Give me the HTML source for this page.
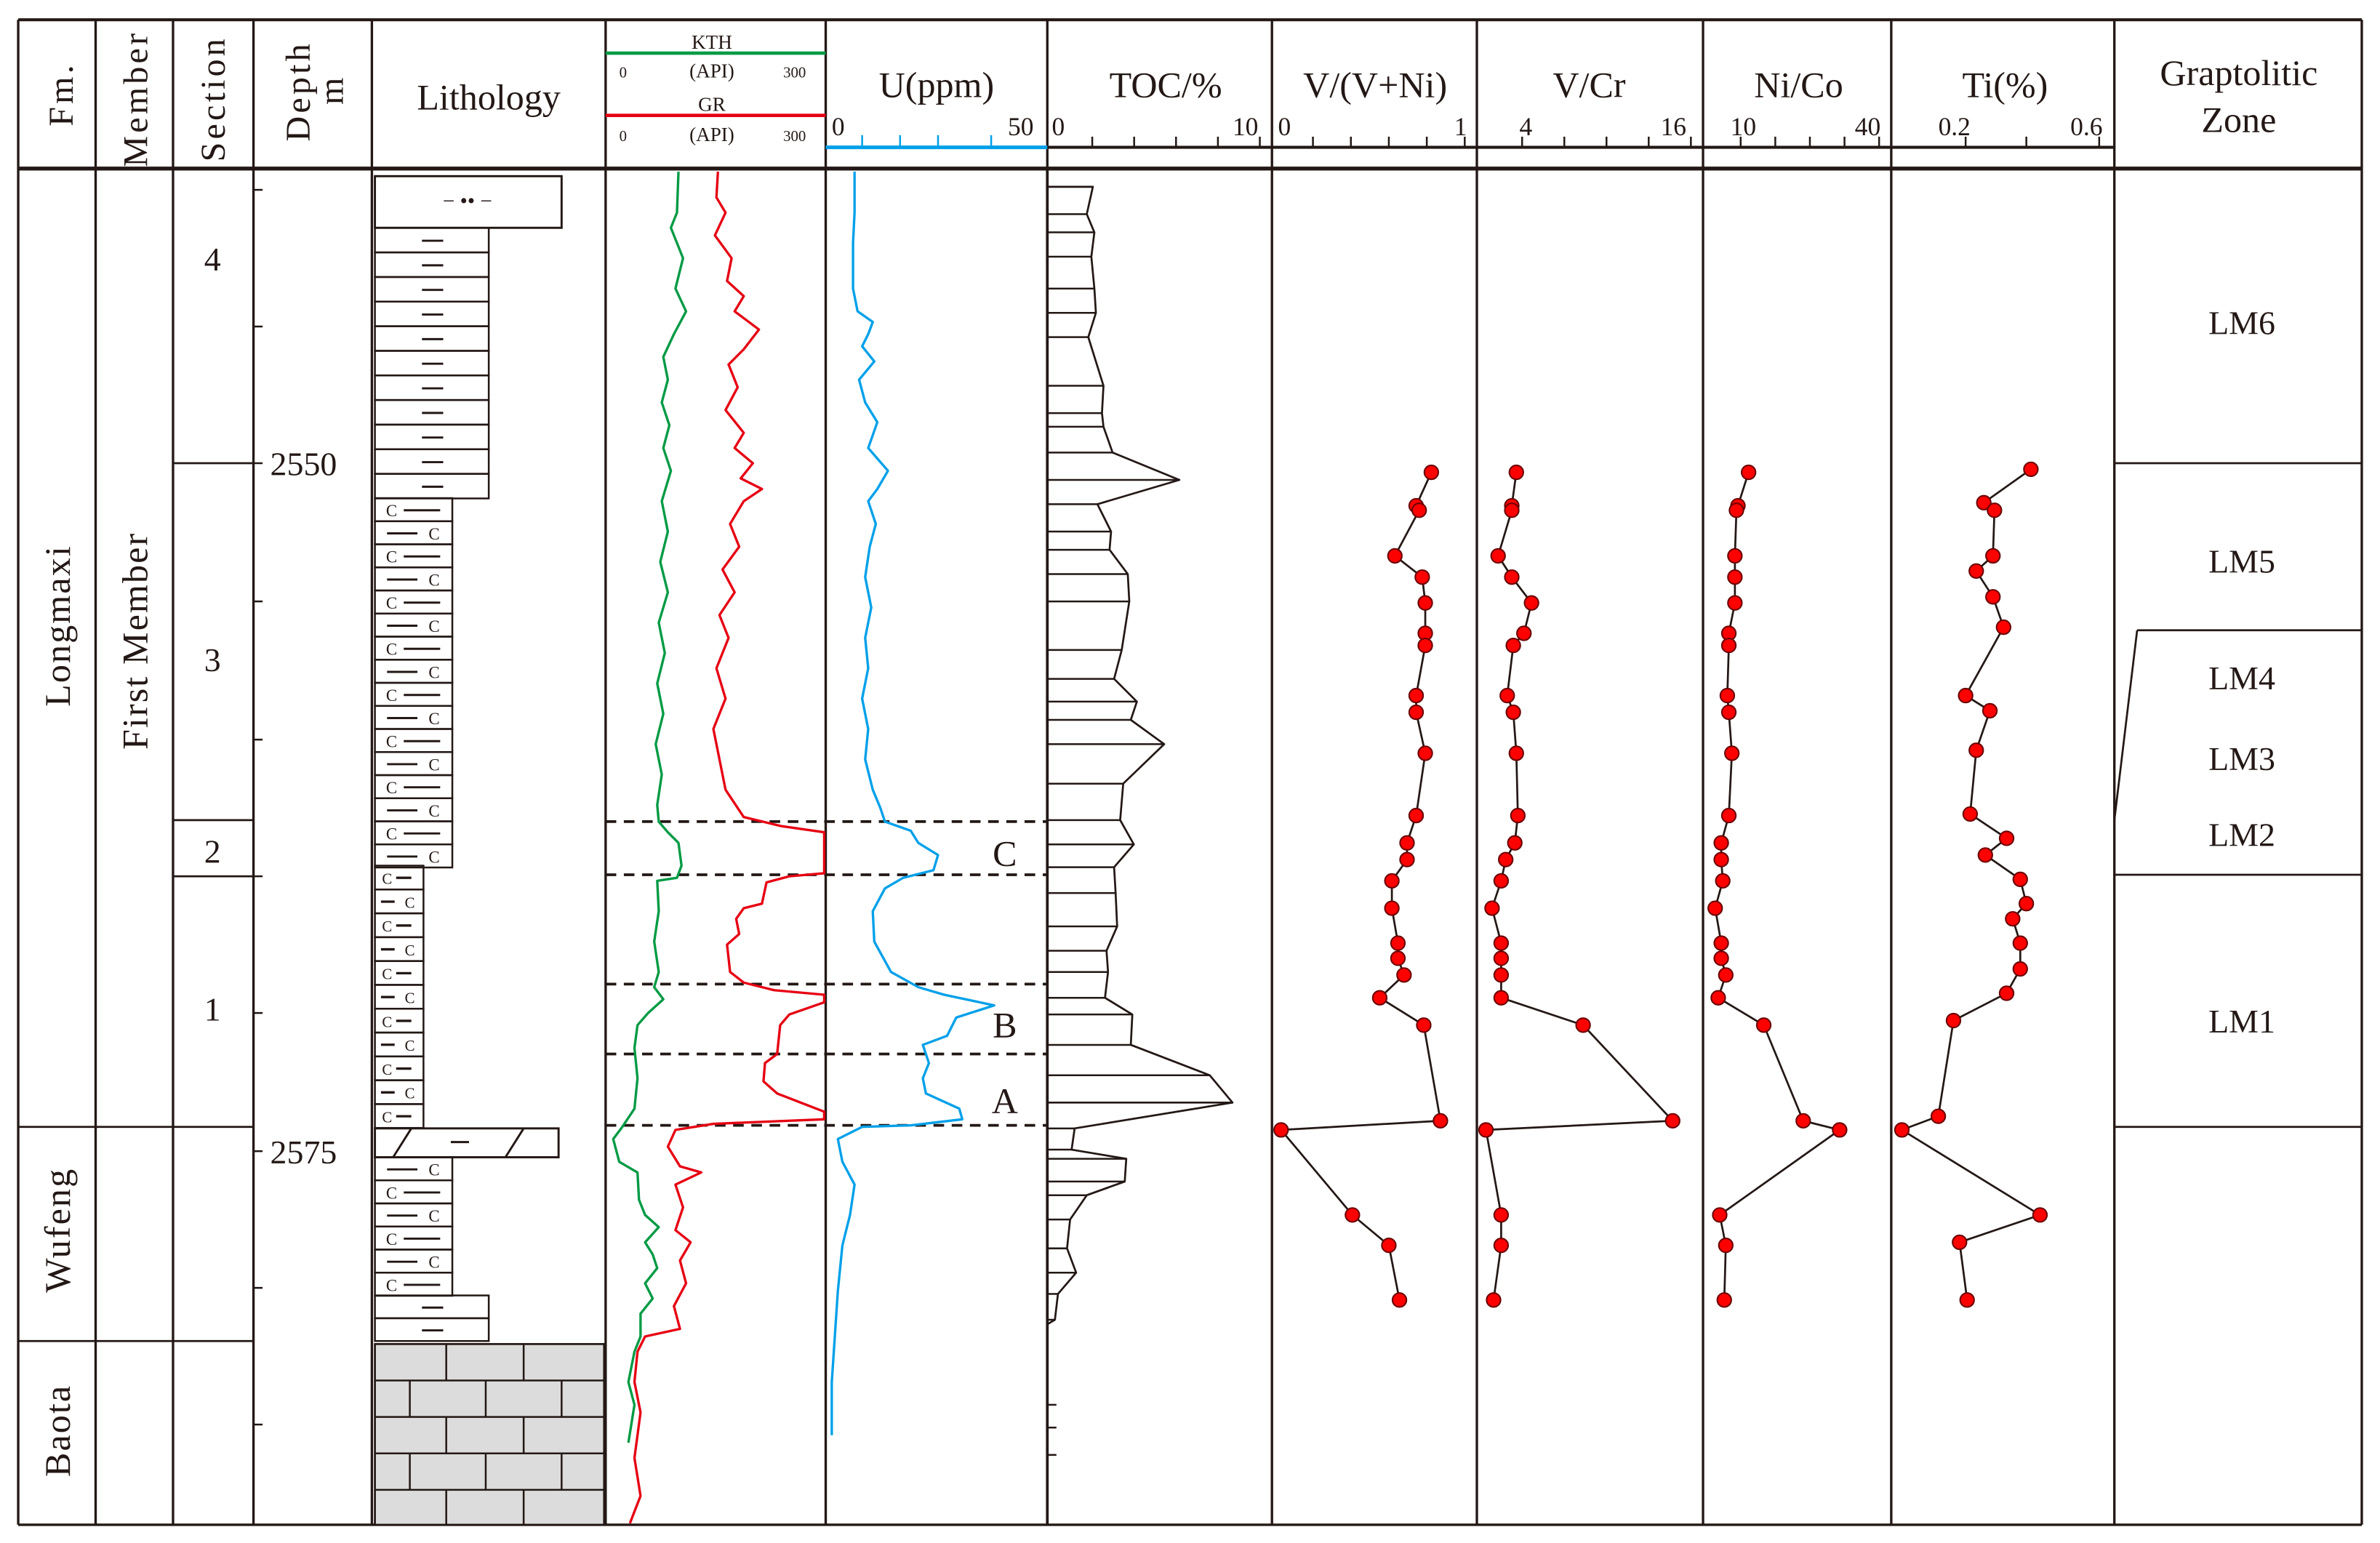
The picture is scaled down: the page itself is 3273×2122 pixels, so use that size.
<!DOCTYPE html>
<html><head><meta charset="utf-8">
<style>
html,body{margin:0;padding:0;background:#fff;}
svg{display:block;}
text{font-family:"Liberation Serif",serif;fill:#231815;}
</style></head>
<body>
<svg id="s" width="3273" height="2122" viewBox="0 0 1568 1016" preserveAspectRatio="none" xmlns="http://www.w3.org/2000/svg">
<rect x="0" y="0" width="1568" height="1016" fill="#fff"/>
<g id="g" stroke="#231815" fill="none"></g>
<text x="40" y="62" font-size="23" transform="rotate(-90 40 62)" text-anchor="middle" dy="8" letter-spacing="2">Fm.</text>
<text x="89" y="65" font-size="23" transform="rotate(-90 89 65)" text-anchor="middle" dy="8" letter-spacing="2">Member</text>
<text x="140" y="65" font-size="23" transform="rotate(-90 140 65)" text-anchor="middle" dy="8" letter-spacing="2">Section</text>
<text x="196" y="60" font-size="23" transform="rotate(-90 196 60)" text-anchor="middle" dy="8" letter-spacing="2">Depth</text>
<text x="218" y="60" font-size="23" transform="rotate(-90 218 60)" text-anchor="middle" dy="8">m</text>
<text x="322" y="72" font-size="24" text-anchor="middle">Lithology</text>
<text x="469" y="32" font-size="13" text-anchor="middle">KTH</text>
<text x="408" y="51" font-size="10">0</text><text x="469" y="51" font-size="13" text-anchor="middle">(API)</text><text x="516" y="51" font-size="10">300</text>
<text x="469" y="73" font-size="13" text-anchor="middle">GR</text>
<text x="408" y="93" font-size="10">0</text><text x="469" y="93" font-size="13" text-anchor="middle">(API)</text><text x="516" y="93" font-size="10">300</text>
<text x="617" y="64" font-size="24" text-anchor="middle">U(ppm)</text>
<text x="548" y="89" font-size="17">0</text><text x="664" y="89" font-size="17">50</text>
<text x="768" y="64" font-size="24" text-anchor="middle">TOC/%</text>
<text x="693" y="89" font-size="17">0</text><text x="812" y="89" font-size="17">10</text>
<text x="906" y="64" font-size="24" text-anchor="middle">V/(V+Ni)</text>
<text x="842" y="89" font-size="17">0</text><text x="958" y="89" font-size="17">1</text>
<text x="1047" y="64" font-size="24" text-anchor="middle">V/Cr</text>
<text x="1001" y="89" font-size="17">4</text><text x="1094" y="89" font-size="17">16</text>
<text x="1185" y="64" font-size="24" text-anchor="middle">Ni/Co</text>
<text x="1140" y="89" font-size="17">10</text><text x="1222" y="89" font-size="17">40</text>
<text x="1321" y="64" font-size="24" text-anchor="middle">Ti(%)</text>
<text x="1277" y="89" font-size="17">0.2</text><text x="1364" y="89" font-size="17">0.6</text>
<text x="1475" y="56" font-size="24" text-anchor="middle">Graptolitic</text>
<text x="1475" y="87" font-size="24" text-anchor="middle">Zone</text>
<text x="38" y="412" font-size="24" transform="rotate(-90 38 412)" text-anchor="middle" dy="8" letter-spacing="1">Longmaxi</text>
<text x="89" y="422" font-size="24" transform="rotate(-90 89 422)" text-anchor="middle" dy="8" letter-spacing="1">First Member</text>
<text x="38" y="810" font-size="24" transform="rotate(-90 38 810)" text-anchor="middle" dy="8" letter-spacing="1">Wufeng</text>
<text x="38" y="942" font-size="24" transform="rotate(-90 38 942)" text-anchor="middle" dy="8" letter-spacing="1">Baota</text>
<text x="140" y="178" font-size="22" text-anchor="middle">4</text>
<text x="140" y="442" font-size="22" text-anchor="middle">3</text>
<text x="140" y="568" font-size="22" text-anchor="middle">2</text>
<text x="140" y="672" font-size="22" text-anchor="middle">1</text>
<text x="178" y="313" font-size="22">2550</text>
<text x="178" y="766" font-size="22">2575</text>
<text x="662" y="570" font-size="24" text-anchor="middle">C</text>
<text x="662" y="683" font-size="24" text-anchor="middle">B</text>
<text x="662" y="733" font-size="24" text-anchor="middle">A</text>
<text x="1477" y="220" font-size="22" text-anchor="middle">LM6</text>
<text x="1477" y="377" font-size="22" text-anchor="middle">LM5</text>
<text x="1477" y="454" font-size="22" text-anchor="middle">LM4</text>
<text x="1477" y="507" font-size="22" text-anchor="middle">LM3</text>
<text x="1477" y="557" font-size="22" text-anchor="middle">LM2</text>
<text x="1477" y="680" font-size="22" text-anchor="middle">LM1</text>
<g id="lt" font-size="12"></g>
</svg>
<script>
var NS="http://www.w3.org/2000/svg",g=document.getElementById('g'),lt=document.getElementById('lt');
function el(t,a,p){var e=document.createElementNS(NS,t);for(var k in a)e.setAttribute(k,a[k]);(p||g).appendChild(e);return e;}
function L(x1,y1,x2,y2,w,c,d){var a={x1:x1,y1:y1,x2:x2,y2:y2,'stroke-width':w||1.3};if(c)a.stroke=c;if(d)a['stroke-dasharray']=d;return el('line',a);}
function P(pts,c,w){return el('polyline',{points:pts.map(function(p){return p.join(',')}).join(' '),stroke:c||'#231815','stroke-width':w||1.3,fill:'none','stroke-linejoin':'round'});}
function T(x,y,s,fs){var e=el('text',{x:x,y:y,'font-size':fs||12,'text-anchor':'middle'},lt);e.textContent=s;}
var cols=[12,63,114,167,245,399,544,690,838,973,1122,1246,1393,1556];
cols.forEach(function(x){L(x,13,x,1004,1.6);});
L(12,13,1556,13,2);L(12,1004,1556,1004,1.6);L(12,111,1556,111,2.6);
L(690,97,1393,97,2);
[[690,838,5],[838,973,5],[973,1122,5],[1122,1246,5],[1246,1393,3]].forEach(function(a){for(var i=1;i<=a[2];i++){var x=a[0]+(a[1]-a[0]-10)*i/a[2]+2;if(a[2]==3)x=[1295,1335,1383][i-1];L(x,90,x,97,1.2);}});
L(544,97,690,97,2.4,'#00a0e9');[568,593,618,653].forEach(function(x){L(x,89,x,97,1.2,'#00a0e9');});
L(399,35,544,35,2.2,'#009a44');L(399,76,544,76,2.2,'#e60012');
L(12,742,167,742);L(12,883,167,883);
L(114,305,167,305);L(114,540,167,540);L(114,577,167,577);
L(1393,305,1556,305);L(1393,576,1556,576);L(1393,742,1556,742);
L(1408,415,1556,415);L(1408,415,1393,540);
[125,215,305,396,487,577,667,758,848,938].forEach(function(y){L(167,y,173,y,1.2);});
el('rect',{x:247,y:116,width:123,height:34,'stroke-width':1.4});
T(308,137,'− •• −',14);
for(var y=150;y<328;y+=16.2){el('rect',{x:247,y:y,width:75,height:16.2,'stroke-width':1.2});L(278,y+8.5,292,y+8.5,1.4);}
var k=0;
for(var y=328;y<570;y+=15.2){el('rect',{x:247,y:y,width:51,height:15.2,'stroke-width':1.2});if(k%2==0){T(258,y+12,'C',11);L(266,y+8,290,y+8,1.4);}else{L(255,y+8,275,y+8,1.4);T(286,y+12,'C',11);}k++;}
k=0;
for(var y=570;y<742;y+=15.7){el('rect',{x:247,y:y,width:32,height:15.7,'stroke-width':1.2});if(k%2==0){T(255,y+12,'C',10);L(261,y+8,271,y+8,1.6);}else{L(251,y+8,260,y+8,1.6);T(270,y+12,'C',10);}k++;}
el('rect',{x:247,y:743,width:121,height:19,'stroke-width':1.4});L(259,762,271,743,1.4);L(333,762,345,743,1.4);L(297,752,309,752,1.4);
k=0;
for(var y=762;y<853;y+=15.2){el('rect',{x:247,y:y,width:51,height:15.2,'stroke-width':1.2});if(k%2==0){L(255,y+8,275,y+8,1.4);T(286,y+12,'C',11);}else{T(258,y+12,'C',11);L(266,y+8,290,y+8,1.4);}k++;}
for(var y=853;y<883;y+=15){el('rect',{x:247,y:y,width:75,height:15,'stroke-width':1.2});L(278,y+8,292,y+8,1.4);}
el('rect',{x:247,y:885,width:151,height:119,fill:'#dcdcdc','stroke-width':1.3});
for(var i=0;i<5;i++){var y=885+i*24;if(i>0)L(247,y,398,y,1.2);var off=(i%2==0)?[294,345]:[270,320,370];off.forEach(function(x){L(x,y,x,Math.min(y+24,1004),1.2);});}
[541,576,648,694,741].forEach(function(y){L(399,y,690,y,1.8,'#231815','7,5');});
P([[447,113],[446,140],[442,150],[450,170],[445,190],[452,205],[444,220],[437,235],[440,250],[436,265],[441,280],[437,295],[442,310],[436,330],[440,350],[435,370],[440,390],[434,410],[438,430],[433,450],[437,470],[432,490],[436,510],[433,530],[434,541],[440,548],[447,555],[449,570],[446,578],[433,580],[434,600],[431,620],[434,640],[431,650],[437,658],[427,667],[420,675],[418,690],[420,710],[418,730],[410,742],[404,750],[408,765],[420,772],[421,790],[425,800],[434,808],[425,818],[430,826],[433,835],[425,845],[430,855],[422,865],[422,880],[418,890],[414,910],[418,925],[414,950]],'#009a44',1.6);
P([[473,113],[472,130],[478,140],[471,155],[482,170],[479,185],[490,195],[484,205],[500,217],[490,230],[480,240],[486,255],[478,270],[490,285],[484,295],[496,305],[488,315],[502,322],[490,330],[481,345],[487,360],[476,375],[484,390],[474,405],[480,420],[472,440],[478,460],[470,480],[474,500],[478,520],[490,538],[515,544],[543,548],[543,575],[520,577],[505,581],[502,595],[490,598],[485,605],[487,615],[479,622],[481,640],[490,647],[510,652],[543,655],[543,660],[520,668],[514,675],[512,694],[504,700],[503,712],[512,720],[543,732],[543,737],[470,740],[445,744],[440,755],[448,768],[462,772],[445,780],[450,795],[445,810],[455,818],[448,830],[452,845],[444,860],[448,875],[425,880],[420,890],[418,910],[422,930],[418,960],[422,985],[415,1003]],'#e60012',1.6);
P([[563,113],[563,140],[562,160],[562,190],[565,205],[575,212],[572,220],[568,228],[576,238],[566,250],[570,265],[578,278],[572,295],[585,310],[578,322],[572,330],[577,345],[573,360],[570,380],[574,400],[570,420],[572,440],[568,460],[572,480],[570,500],[575,520],[580,532],[583,541],[600,547],[605,555],[618,563],[615,573],[595,578],[583,585],[575,600],[576,620],[587,640],[605,650],[622,655],[655,662],[630,670],[624,682],[608,688],[612,700],[608,710],[610,720],[632,730],[634,737],[600,741],[568,742],[552,750],[555,765],[563,780],[560,800],[555,820],[552,850],[550,880],[548,910],[548,945]],'#00a0e9',1.6);
var toc=[[123,720],[141,716],[153,721],[169,719],[190,721],[206,722],[222,717],[254,727],[272,726],[281,727],[298,733],[316,777],[332,723],[350,732],[362,731],[378,743],[396,744],[428,739],[447,734],[462,749],[474,745],[490,767],[516,740],[540,738],[556,747],[571,734],[588,735],[610,736],[626,729],[640,730],[657,728],[668,746],[688,745],[708,797],[726,812],[743,708],[757,706],[763,742],[778,741],[787,716],[803,705],[822,703],[838,709],[852,697],[869,695]];
var pts=[[690,123]];
toc.forEach(function(p){pts.push([p[1],p[0]]);});
pts.push([690,872]);
P(pts,'#231815',1.3);
toc.forEach(function(p){L(690,p[0],p[1],p[0],1.2);});
L(690,111,690,1004,1.8);
[925,940,958].forEach(function(y){L(690,y,696,y,1.2);});
function S(pts){P(pts,'#231815',1.3);pts.forEach(function(p){el('circle',{cx:p[0],cy:p[1],r:4.6,fill:'#ff0000',stroke:'#6b0000','stroke-width':1});});}
var Y=[311,333,336,366,380,397,417,425,458,469,496,537,555,566,580,598,621,631,642,657,675,738,744,800,820,856];
function Z(xs){return xs.map(function(x,i){return [x,Y[i]];});}
S(Z([943,933,935,919,937,939,939,939,933,933,939,933,927,927,917,917,921,921,925,909,938,949,844,891,915,922]));
S(Z([999,996,996,987,996,1009,1004,997,993,997,999,1000,998,992,989,983,989,989,989,989,1043,1102,979,989,989,984]));
S(Z([1152,1145,1144,1143,1143,1143,1139,1139,1138,1139,1141,1139,1134,1134,1135,1130,1134,1134,1137,1132,1162,1188,1212,1133,1137,1136]));
S([[1338,309],[1307,331],[1314,336],[1313,366],[1302,376],[1313,393],[1320,413],[1295,458],[1311,468],[1302,494],[1298,536],[1322,552],[1308,563],[1331,579],[1335,595],[1326,605],[1331,621],[1331,638],[1322,654],[1287,672],[1277,735],[1253,744],[1344,800],[1291,818],[1296,856]]);
</script>
</body></html>
